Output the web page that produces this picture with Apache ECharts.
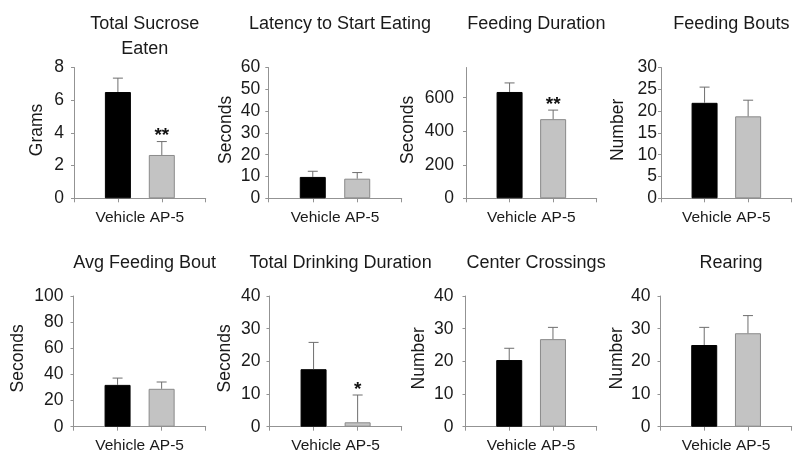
<!DOCTYPE html>
<html>
<head>
<meta charset="utf-8">
<script src="https://cdn.jsdelivr.net/npm/echarts@6/dist/echarts.min.js"></script>
<style>
html,body{margin:0;padding:0;background:#fff;}
#chart{width:800px;height:460px;}
</style>
</head>
<body>
<div id="chart"></div>
<script>
// ---- data ----
const groups = ['Vehicle', 'AP-5'];
const titles = ['Total Sucrose\nEaten', 'Latency to Start Eating', 'Feeding Duration', 'Feeding Bouts',
                'Avg Feeding Bout', 'Total Drinking Duration', 'Center Crossings', 'Rearing'];
const yNames = ['Grams', 'Seconds', 'Seconds', 'Number', 'Seconds', 'Seconds', 'Number', 'Number'];
const yMax = [8, 60, 780, 30, 100, 40, 40, 40];
const yStep = [2, 10, 200, 5, 20, 10, 10, 10];
const vehicleMean = [6.5, 9.8, 634, 21.9, 32, 17.6, 20.4, 25];
const vehicleSem  = [0.85, 2.6, 54, 3.6, 5.2, 8.2, 3.6, 5.4];
const ap5Mean     = [2.65, 9.0, 472, 18.8, 29, 1.35, 26.8, 28.6];
const ap5Sem      = [0.82, 2.8, 54, 3.7, 5.2, 8.35, 3.6, 5.4];
const ap5Sig      = ['**', '', '**', '', '', '*', '', ''];

// ---- layout (not data) ----
const panels = [
  {left: 74,    right: 205.7, top: 67.5, bottom: 198.3, labelMargin: 10, nameGap: 28},
  {left: 268.3, right: 401.7, top: 67.5, bottom: 198.3, labelMargin: 8,  nameGap: 33},
  {left: 466,   right: 596.7, top: 67.5, bottom: 198.3, labelMargin: 12, nameGap: 49},
  {left: 661,   right: 791.7, top: 67.5, bottom: 198.3, labelMargin: 4,  nameGap: 34},
  {left: 73.5,  right: 205.7, top: 296,  bottom: 426.7, labelMargin: 10, nameGap: 46},
  {left: 269.5, right: 401.7, top: 296,  bottom: 426.7, labelMargin: 9,  nameGap: 35},
  {left: 465.5, right: 596.7, top: 296,  bottom: 426.7, labelMargin: 12, nameGap: 37},
  {left: 660.5, right: 791.7, top: 296,  bottom: 426.7, labelMargin: 10, nameGap: 34}
];
const FONT = 'Liberation Sans, Arial, sans-serif';
const AXIS = '#939393';
const TXT = '#1a1a1a';

const grid = [], xAxis = [], yAxis = [], series = [], title = [];
panels.forEach((p, i) => {
  grid.push({left: p.left, top: p.top, width: p.right - p.left, height: p.bottom - p.top, containLabel: false});
  const cx = (p.left + p.right) / 2;
  title.push({
    text: titles[i], left: cx, textAlign: 'center', top: i < 4 ? 7 : 246,
    textStyle: {fontFamily: FONT, fontSize: 18, fontWeight: 'normal', color: TXT, lineHeight: 25}
  });
  xAxis.push({
    gridIndex: i, type: 'value', min: 0, max: 3, interval: 1,
    axisLine: {show: true, lineStyle: {color: AXIS, width: 1}},
    axisTick: {show: true, length: 4, inside: false, lineStyle: {color: AXIS}},
    axisLabel: {show: false}, splitLine: {show: false},
    name: groups.join(' '), nameLocation: 'middle', nameGap: 11,
    nameTextStyle: {fontFamily: FONT, fontSize: 15.5, color: TXT, verticalAlign: 'top'}
  });
  yAxis.push({
    gridIndex: i, type: 'value', min: 0, max: yMax[i], interval: yStep[i],
    axisLine: {show: true, lineStyle: {color: AXIS, width: 1}},
    axisTick: {show: true, length: 3, lineStyle: {color: AXIS}},
    splitLine: {show: false},
    axisLabel: {fontFamily: FONT, fontSize: 17.5, color: TXT, margin: p.labelMargin, showMaxLabel: i !== 2},
    name: yNames[i], nameLocation: 'middle', nameRotate: 90, nameGap: p.nameGap,
    nameTextStyle: {fontFamily: FONT, fontSize: 17.5, color: TXT, padding: [0, 0, 0, 6]}
  });
  series.push({
    type: 'bar', xAxisIndex: i, yAxisIndex: i, barWidth: 26, silent: true,
    data: [
      {value: [1, vehicleMean[i]], itemStyle: {color: '#000000', borderColor: '#000000', borderWidth: 1}},
      {value: [2, ap5Mean[i]], itemStyle: {color: '#c3c3c3', borderColor: '#8a8a8a', borderWidth: 1}}
    ]
  });
  const errData = [[1, vehicleMean[i], vehicleSem[i]], [2, ap5Mean[i], ap5Sem[i]]];
  const sigs = ['', ap5Sig[i]];
  series.push({
    type: 'custom', xAxisIndex: i, yAxisIndex: i, silent: true, z: 5,
    data: errData,
    renderItem: function (params, api) {
      const x = api.value(0), m = api.value(1), e = api.value(2);
      const b = api.coord([x, m]);
      const t = api.coord([x, m + e]);
      const children = [
        {type: 'line', shape: {x1: b[0], y1: b[1], x2: t[0], y2: t[1]}, style: {stroke: '#6e6e6e', lineWidth: 1}},
        {type: 'line', shape: {x1: t[0] - 5, y1: t[1], x2: t[0] + 5, y2: t[1]}, style: {stroke: '#6e6e6e', lineWidth: 1}}
      ];
      const s = sigs[params.dataIndex];
      if (s) {
        children.push({type: 'text', style: {text: s, x: t[0], y: t[1] + 4, align: 'center', verticalAlign: 'bottom',
          font: 'bold 19px ' + FONT, fill: '#111'}});
      }
      return {type: 'group', children: children};
    }
  });
});

const chart = echarts.init(document.getElementById('chart'), null, {renderer: 'canvas'});
chart.setOption({animation: false, backgroundColor: '#ffffff', title, grid, xAxis, yAxis, series});
</script>
</body>
</html>
